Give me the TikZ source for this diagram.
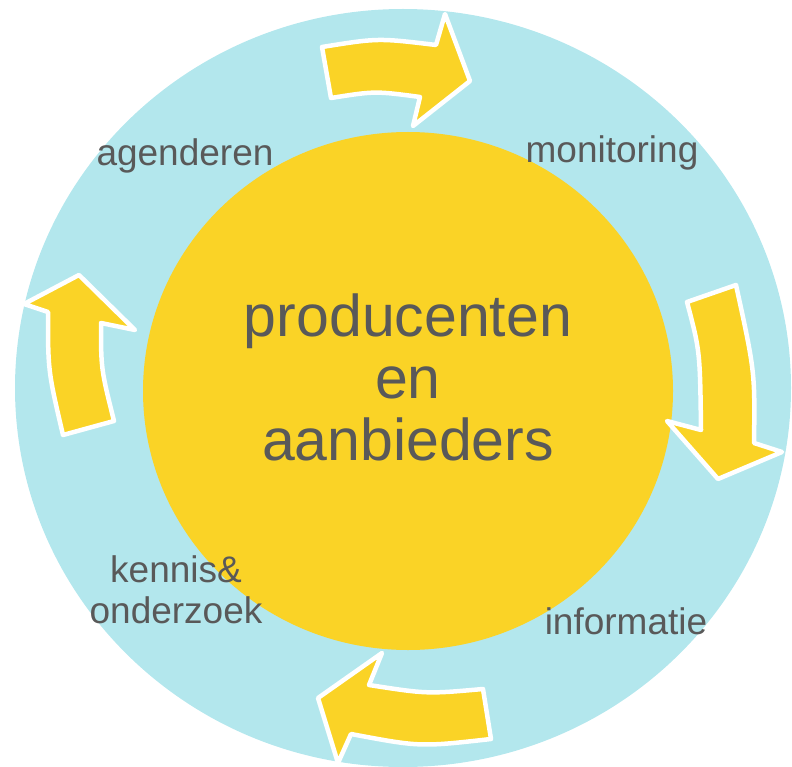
\documentclass[tikz,border=0pt]{standalone}
\usepackage{fontspec}
\setmainfont{Liberation Sans}
\usetikzlibrary{positioning}
\definecolor{ringblue}{RGB}{179,231,237}
\definecolor{sunyellow}{RGB}{250,211,38}
\definecolor{labelgray}{RGB}{89,89,89}
\tikzset{>=latex,
  ringarrow/.style={fill=sunyellow, draw=white, line width=4.5pt, line join=round},
  steplabel/.style={text=labelgray, inner sep=0pt, align=center, font=\fontsize{37}{41}\selectfont},
  hublabel/.style={text=labelgray, inner sep=0pt, align=center, font=\fontsize{59}{62}\selectfont}
}

\begin{document}
\begin{tikzpicture}[x=1pt,y=-1pt]
    \useasboundingbox (0,0) rectangle (792,767);
    \fill [ringblue] (403,388) ellipse [x radius=388, y radius=379];
    \fill [sunyellow] (408,391) ellipse [x radius=265, y radius=259];
    % the four arrows round the ring
    \draw [ringarrow] (322,47) .. controls (378,38) .. (436,45) -- (445,14) -- (470,81) -- (413,126) -- (420,97) .. controls (375,91) .. (331,98) -- cycle;
    \draw [ringarrow] (687,302) -- (736,285) .. controls (755,372) .. (754,443) -- (782,452) -- (718,479) -- (667,421) -- (701,430) .. controls (700,351) .. (687,302) -- cycle;
    \draw [ringarrow] (382,653) -- (318,698) -- (338,763) -- (351,734) .. controls (420,747) .. (491,739) -- (483,689) .. controls (427,694) .. (369,685) -- cycle;
    \draw [ringarrow] (79,275) -- (135,330) -- (101,323) .. controls (101,369) .. (114,421) -- (63,435) .. controls (48,371) .. (48,312) -- (24,304) -- cycle;
    \node [hublabel] (hub) at (408,377) {producenten\\en\\aanbieders};
    \node [steplabel, anchor=base] (agenda) at (185,166) {agenderen};
    \node [steplabel, anchor=base] (monitor) at (612,163) {monitoring};
    \node [steplabel, anchor=base] (info) at (626,634) {informatie};
    \node [steplabel, anchor=north] (research) at (176,555) {kennis\&\\onderzoek};
  \end{tikzpicture}
\end{document}
